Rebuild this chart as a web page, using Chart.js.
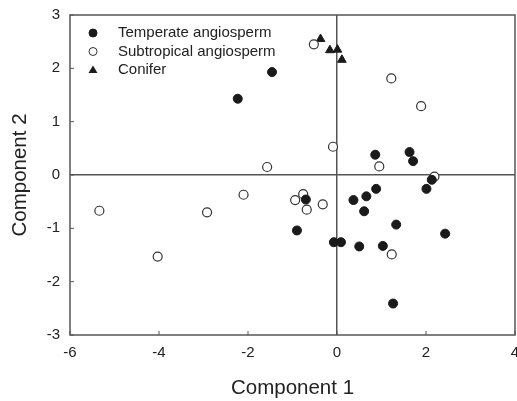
<!DOCTYPE html>
<html>
<head>
<meta charset="utf-8">
<script src="https://cdn.jsdelivr.net/npm/chart.js@4"></script>
<style>
  body { margin: 0; background: #fff; }
  #wrap { width: 517px; height: 401px; }
</style>
</head>
<body>
<div id="wrap"><canvas id="myChart" width="517" height="401"></canvas></div>
<script>
// series labels
let seriesNames = ['Temperate angiosperm', 'Subtropical angiosperm', 'Conifer'];

// Temperate angiosperm (filled circles)
let temperateX = [-2.23, -1.46, 0.86, 1.63, 1.71, 2.13, 2.01, 0.88, 0.66, 0.37, -0.70, 0.61, 1.33, -0.90, 2.43, -0.07, 0.09, 0.50, 1.03, 1.26];
let temperateY = [1.43, 1.93, 0.38, 0.43, 0.26, -0.09, -0.26, -0.26, -0.40, -0.47, -0.46, -0.68, -0.93, -1.04, -1.10, -1.26, -1.26, -1.34, -1.33, -2.41];

// Subtropical angiosperm (open circles)
let subtropX = [-0.52, 1.22, 1.89, -0.09, 0.95, -1.57, 2.19, -0.76, -0.94, -0.68, -0.32, -2.10, -5.34, -4.03, -2.92, 1.23];
let subtropY = [2.45, 1.81, 1.29, 0.53, 0.16, 0.15, -0.03, -0.36, -0.47, -0.65, -0.55, -0.37, -0.67, -1.53, -0.70, -1.49];

// Conifer (triangles)
let coniferX = [-0.37, -0.16, 0.01, 0.11];
let coniferY = [2.55, 2.34, 2.35, 2.16];

let xTicks = [-6, -4, -2, 0, 2, 4];
let yTicks = [-3, -2, -1, 0, 1, 2, 3];

function toPoints(xs, ys) {
  return xs.map((x, i) => ({ x: x, y: ys[i] }));
}

let ink = '#1a1a1a';
let axisGray = '#555';

// box around plot, inward ticks, legend inside the plot
let framePlugin = {
  id: 'frame',
  afterDatasetsDraw(chart) {
    let ctx = chart.ctx;
    let a = chart.chartArea;
    let xs = chart.scales.x, ys = chart.scales.y;
    ctx.save();
    ctx.strokeStyle = axisGray;
    ctx.lineWidth = 1.5;
    ctx.strokeRect(a.left, a.top, a.right - a.left, a.bottom - a.top);
    ctx.lineWidth = 1;
    xTicks.forEach(v => {
      let px = xs.getPixelForValue(v);
      ctx.beginPath();
      ctx.moveTo(px, a.bottom);
      ctx.lineTo(px, a.bottom - 4);
      ctx.stroke();
    });
    yTicks.forEach(v => {
      let py = ys.getPixelForValue(v);
      ctx.beginPath();
      ctx.moveTo(a.left, py);
      ctx.lineTo(a.left + 4, py);
      ctx.stroke();
    });

    // legend
    ctx.font = '15px "Liberation Sans", Arial, sans-serif';
    ctx.textBaseline = 'middle';
    chart.data.datasets.forEach((ds, i) => {
      let ly = 33 + i * 18.5;
      let lx = 93;
      ctx.beginPath();
      if (ds.pointStyle === 'triangle') {
        ctx.moveTo(lx, ly - 4.5);
        ctx.lineTo(lx + 4.5, ly + 3);
        ctx.lineTo(lx - 4.5, ly + 3);
        ctx.closePath();
        ctx.fillStyle = ink;
        ctx.fill();
      } else {
        ctx.arc(lx, ly, 4, 0, Math.PI * 2);
        ctx.fillStyle = ds.backgroundColor;
        ctx.fill();
        ctx.strokeStyle = ds.borderColor;
        ctx.lineWidth = 1;
        ctx.stroke();
      }
      ctx.fillStyle = '#222';
      ctx.fillText(ds.label, 118, ly);
    });
    ctx.restore();
  }
};

let myChart = document.getElementById('myChart');

let scatterChart = new Chart(myChart, {
  type: 'scatter',
  data: {
    datasets: [{
      label: seriesNames[0],
      data: toPoints(temperateX, temperateY),
      pointStyle: 'circle',
      pointRadius: 4.5,
      backgroundColor: ink,
      borderColor: ink,
      borderWidth: 1
    }, {
      label: seriesNames[1],
      data: toPoints(subtropX, subtropY),
      pointStyle: 'circle',
      pointRadius: 4.5,
      backgroundColor: '#fff',
      borderColor: '#333',
      borderWidth: 1.2
    }, {
      label: seriesNames[2],
      data: toPoints(coniferX, coniferY),
      pointStyle: 'triangle',
      pointRadius: 5,
      backgroundColor: ink,
      borderColor: ink,
      borderWidth: 1
    }]
  },
  options: {
    responsive: false,
    animation: false,
    layout: { autoPadding: false, padding: { top: 15, right: 2, left: 0, bottom: 0 } },
    plugins: {
      legend: { display: false },
      tooltip: { enabled: false }
    },
    scales: {
      x: {
        type: 'linear',
        min: -6,
        max: 4,
        afterBuildTicks: s => { s.ticks = xTicks.map(v => ({ value: v })); },
        afterFit: s => { s.height = 66; s.paddingLeft = 0; s.paddingRight = 0; },
        grid: {
          color: c => (c.tick && c.tick.value === 0) ? axisGray : 'rgba(0,0,0,0)',
          lineWidth: 1.5,
          drawTicks: false
        },
        border: { display: false },
        ticks: {
          padding: 9,
          color: '#222',
          font: { family: '"Liberation Sans", Arial, sans-serif', size: 15 }
        },
        title: {
          display: true,
          text: 'Component 1',
          color: '#222',
          padding: { top: 7, bottom: 0 },
          font: { family: '"Liberation Sans", Arial, sans-serif', size: 20.5 }
        }
      },
      y: {
        type: 'linear',
        min: -3,
        max: 3,
        afterBuildTicks: s => { s.ticks = yTicks.map(v => ({ value: v })); },
        afterFit: s => { s.width = 70; s.paddingTop = 0; s.paddingBottom = 0; },
        grid: {
          color: c => (c.tick && c.tick.value === 0) ? axisGray : 'rgba(0,0,0,0)',
          lineWidth: 1.5,
          drawTicks: false
        },
        border: { display: false },
        ticks: {
          padding: 10,
          color: '#222',
          font: { family: '"Liberation Sans", Arial, sans-serif', size: 15 }
        },
        title: {
          display: true,
          text: 'Component 2',
          color: '#222',
          padding: { top: 8, bottom: 0 },
          font: { family: '"Liberation Sans", Arial, sans-serif', size: 20.5 }
        }
      }
    }
  },
  plugins: [framePlugin]
});
</script>
</body>
</html>
